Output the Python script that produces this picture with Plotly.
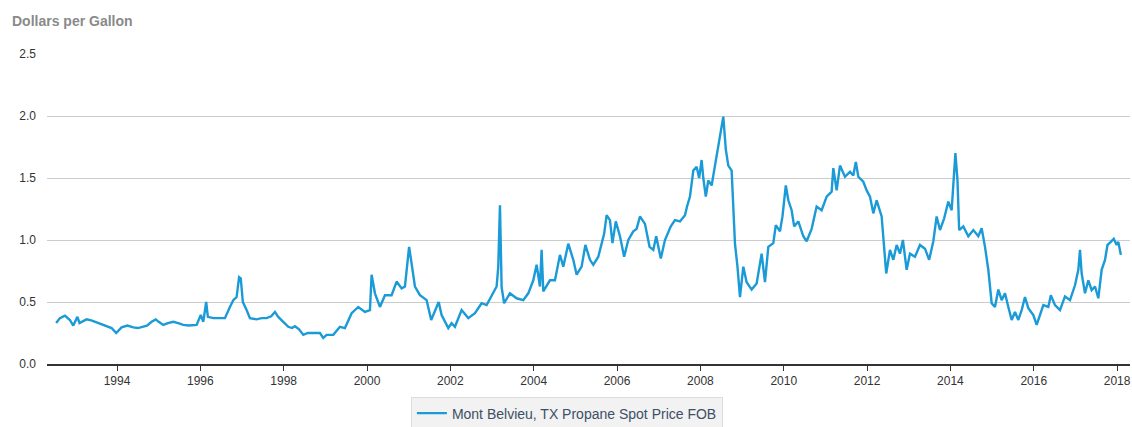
import plotly.graph_objects as go

# Decimal-year dates and spot prices (dollars per gallon)
years = [
    1992.54, 1992.63, 1992.75, 1992.87, 1992.95, 1993.05, 1993.10, 1993.27, 1993.51, 1993.75,
    1993.87, 1993.98, 1994.11, 1994.39, 1994.63, 1994.83, 1994.93, 1995.11, 1995.35, 1995.59,
    1995.91, 1996.01, 1996.07, 1996.14, 1996.18, 1996.31, 1996.59, 1996.71, 1996.79, 1996.87,
    1996.93, 1996.97, 1997.02, 1997.11, 1997.19, 1997.35, 1997.59, 1997.79, 1997.87, 1997.99,
    1998.11, 1998.27, 1998.47, 1998.71, 1998.87, 1998.95, 1999.03, 1999.19, 1999.35, 1999.47,
    1999.63, 1999.79, 1999.95, 2000.07, 2000.11, 2000.19, 2000.31, 2000.43, 2000.59, 2000.71,
    2000.83, 2000.91, 2001.01, 2001.07, 2001.15, 2001.27, 2001.43, 2001.54, 2001.63, 2001.72,
    2001.79, 2001.95, 2002.03, 2002.11, 2002.27, 2002.43, 2002.59, 2002.75, 2002.87, 2002.99,
    2003.11, 2003.15, 2003.19, 2003.23, 2003.29, 2003.43, 2003.59, 2003.75, 2003.87, 2003.99,
    2004.07, 2004.15, 2004.19, 2004.23, 2004.39, 2004.51, 2004.63, 2004.71, 2004.83, 2004.95,
    2005.03, 2005.15, 2005.24, 2005.35, 2005.43, 2005.55, 2005.63, 2005.69, 2005.75, 2005.83,
    2005.89, 2005.97, 2006.07, 2006.17, 2006.27, 2006.39, 2006.47, 2006.55, 2006.67, 2006.78,
    2006.87, 2006.94, 2007.05, 2007.15, 2007.29, 2007.39, 2007.51, 2007.63, 2007.68, 2007.75,
    2007.83, 2007.91, 2007.97, 2008.03, 2008.07, 2008.13, 2008.19, 2008.27, 2008.35, 2008.43,
    2008.49, 2008.55, 2008.61, 2008.67, 2008.75, 2008.79, 2008.83, 2008.89, 2008.95, 2009.03,
    2009.11, 2009.23, 2009.35, 2009.47, 2009.55, 2009.63, 2009.75, 2009.81, 2009.91, 2009.97,
    2010.05, 2010.11, 2010.19, 2010.25, 2010.35, 2010.47, 2010.55, 2010.67, 2010.79, 2010.91,
    2011.03, 2011.15, 2011.19, 2011.27, 2011.35, 2011.47, 2011.59, 2011.67, 2011.73, 2011.79,
    2011.91, 2011.99, 2012.07, 2012.15, 2012.23, 2012.35, 2012.43, 2012.46, 2012.55, 2012.63,
    2012.71, 2012.79, 2012.86, 2012.95, 2013.03, 2013.15, 2013.27, 2013.39, 2013.49, 2013.59,
    2013.67, 2013.75, 2013.85, 2013.95, 2014.03, 2014.08, 2014.12, 2014.17, 2014.21, 2014.31,
    2014.43, 2014.55, 2014.67, 2014.75, 2014.83, 2014.91, 2014.99, 2015.07, 2015.15, 2015.23,
    2015.31, 2015.39, 2015.47, 2015.55, 2015.63, 2015.71, 2015.79, 2015.87, 2015.99, 2016.07,
    2016.15, 2016.23, 2016.35, 2016.41, 2016.51, 2016.63, 2016.75, 2016.87, 2016.99, 2017.07,
    2017.11, 2017.15, 2017.23, 2017.31, 2017.39, 2017.47, 2017.55, 2017.63, 2017.71, 2017.77,
    2017.85, 2017.92, 2017.99, 2018.03, 2018.09,
]
prices = [
    0.33, 0.37, 0.39, 0.355, 0.31, 0.38, 0.33, 0.36, 0.335, 0.305,
    0.29, 0.25, 0.295, 0.295, 0.30, 0.34, 0.36, 0.315, 0.34, 0.315,
    0.315, 0.395, 0.34, 0.50, 0.38, 0.37, 0.37, 0.46, 0.515, 0.54,
    0.70, 0.69, 0.50, 0.435, 0.37, 0.36, 0.37, 0.42, 0.38, 0.34,
    0.30, 0.305, 0.235, 0.25, 0.25, 0.21, 0.235, 0.235, 0.30, 0.29,
    0.41, 0.46, 0.42, 0.435, 0.72, 0.57, 0.46, 0.555, 0.555, 0.665,
    0.61, 0.625, 0.945, 0.81, 0.625, 0.555, 0.515, 0.355, 0.435, 0.50,
    0.395, 0.29, 0.33, 0.30, 0.435, 0.37, 0.41, 0.49, 0.475, 0.545,
    0.625, 0.785, 1.28, 0.62, 0.49, 0.57, 0.53, 0.515, 0.57, 0.675,
    0.80, 0.625, 0.92, 0.585, 0.675, 0.675, 0.88, 0.785, 0.97, 0.84,
    0.72, 0.785, 0.96, 0.84, 0.80, 0.865, 0.975, 1.05, 1.20, 1.16,
    0.975, 1.15, 1.03, 0.865, 1.00, 1.07, 1.09, 1.19, 1.13, 0.945,
    0.92, 1.03, 0.85, 1.00, 1.11, 1.16, 1.15, 1.20, 1.27, 1.35,
    1.56, 1.59, 1.50, 1.645, 1.50, 1.35, 1.48, 1.44, 1.60, 1.75,
    1.86, 1.995, 1.73, 1.60, 1.56, 1.32, 0.97, 0.785, 0.54, 0.785,
    0.66, 0.60, 0.65, 0.89, 0.66, 0.945, 0.975, 1.12, 1.07, 1.19,
    1.44, 1.32, 1.24, 1.11, 1.15, 1.03, 0.99, 1.09, 1.27, 1.24,
    1.35, 1.39, 1.58, 1.40, 1.60, 1.51, 1.55, 1.52, 1.63, 1.51,
    1.47, 1.40, 1.35, 1.215, 1.32, 1.19, 0.81, 0.73, 0.92, 0.84,
    0.96, 0.89, 1.00, 0.76, 0.89, 0.865, 0.96, 0.93, 0.84, 0.99,
    1.19, 1.08, 1.175, 1.31, 1.24, 1.51, 1.70, 1.48, 1.08, 1.11,
    1.03, 1.08, 1.03, 1.095, 0.945, 0.76, 0.49, 0.46, 0.60, 0.515,
    0.57, 0.46, 0.355, 0.42, 0.355, 0.435, 0.54, 0.45, 0.395, 0.315,
    0.395, 0.475, 0.46, 0.555, 0.475, 0.435, 0.545, 0.515, 0.635, 0.76,
    0.92, 0.73, 0.57, 0.675, 0.595, 0.625, 0.53, 0.76, 0.84, 0.96,
    0.985, 1.01, 0.96, 0.985, 0.88,
]

# Additional readings of the small wiggles in the flat 1993-1999 stretch
extra_years = [1993.18, 1993.40, 1993.63, 1994.25, 1994.50, 1994.72, 1995.00, 1995.22,
               1995.47, 1995.72, 1997.47, 1997.70, 1998.20, 1998.37, 1998.58, 1998.80]
extra_prices = [0.345, 0.35, 0.32, 0.31, 0.29, 0.31, 0.34, 0.33,
                0.33, 0.31, 0.37, 0.385, 0.29, 0.28, 0.25, 0.245]

x_ticks = [1994, 1996, 1998, 2000, 2002, 2004, 2006, 2008, 2010, 2012, 2014, 2016, 2018]
x_tick_labels = [str(v) for v in x_ticks]
y_ticks = [0.0, 0.5, 1.0, 1.5, 2.0, 2.5]
y_tick_labels = ["0.0", "0.5", "1.0", "1.5", "2.0", "2.5"]
series_name = "Mont Belvieu, TX Propane Spot Price FOB"

points = sorted(zip(years + extra_years, prices + extra_prices))
all_years = [p[0] for p in points]
all_prices = [p[1] for p in points]

fig = go.Figure()
fig.add_trace(go.Scatter(
    x=all_years, y=all_prices, mode="lines", name=series_name,
    line=dict(color="#1a9ad6", width=2.4),
))

fig.update_layout(
    width=1132, height=427,
    margin=dict(l=47, r=2, t=54, b=63, autoexpand=False),
    paper_bgcolor="white", plot_bgcolor="white",
    font=dict(family="Liberation Sans, Arial, sans-serif", size=12, color="#333333"),
    showlegend=True,
    legend=dict(
        x=0.336, xanchor="left", y=-0.105, yanchor="top",
        bgcolor="#f2f2f2", bordercolor="#dddddd", borderwidth=1,
        font=dict(size=14, color="#3d4f66"),
        itemwidth=30,
    ),
    annotations=[dict(
        text="<b>Dollars per Gallon</b>", xref="paper", yref="paper",
        x=-0.034, y=1.106, xanchor="left", yanchor="middle", showarrow=False,
        font=dict(size=14, color="#8a8a8a"),
    )],
)

fig.update_xaxes(
    range=[1992.32, 2018.31],
    tickmode="array", tickvals=x_ticks, ticktext=x_tick_labels,
    ticks="outside", ticklen=5, tickcolor="#333333", tickwidth=1,
    showgrid=False, showline=True, linecolor="#333333", linewidth=1.5,
    zeroline=False, tickfont=dict(size=12, color="#333333"),
)
fig.update_yaxes(
    range=[0, 2.5],
    tickmode="array", tickvals=y_ticks, ticktext=y_tick_labels,
    showgrid=True, gridcolor="#cccccc", gridwidth=1,
    zeroline=False, showline=False, ticks="", ticklabelstandoff=10,
    tickfont=dict(size=12, color="#333333"),
)

fig.write_html(
    "out.html",
    config={"displayModeBar": False},
    post_script="document.body.style.margin='0';document.body.style.overflow='hidden';",
)
